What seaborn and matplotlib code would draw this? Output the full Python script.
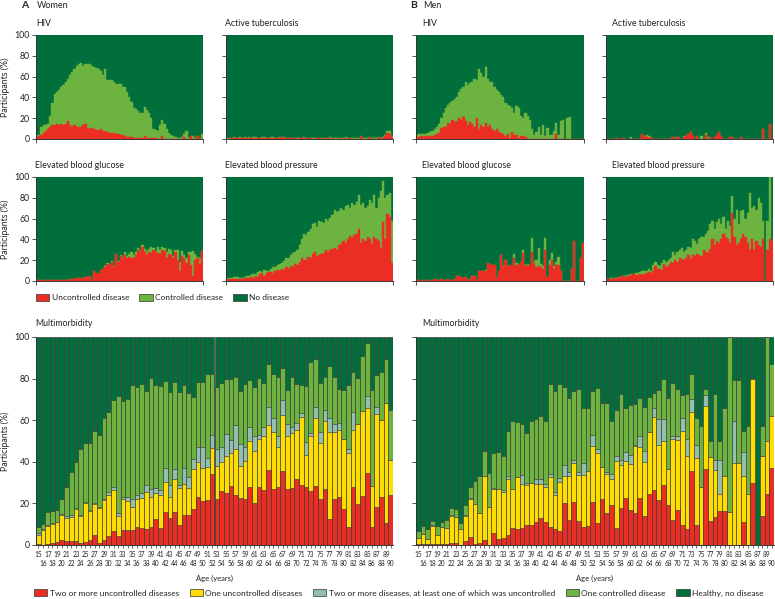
import matplotlib
matplotlib.use("Agg")
import matplotlib.pyplot as plt
import seaborn as sns
from matplotlib.patches import Patch

plt.rcParams['font.family'] = ['Lato', 'DejaVu Sans']

ages = list(range(15, 91))

# ---------------- Women: single conditions (cumulative % : uncontrolled, uncontrolled+controlled)
w_hiv_unc = [2,3,4,6,8,10,12,13,13,14, 13,14,13,14,17,13,12,13,12,12, 12,13,14,10,11,11,10,9,9,10,
             8,8,7,6,6,6,5,5,4,4, 3,2,2,1.5,1,1,1,1,1,3, 1,1,0.5,0.5,0.5,0,0,3,0,0,
             0,0,0,0,0,0,0,2,0,0, 3,0,0,3,0,0]
w_hiv_tot = [4,4,12,13,13,14,22,35,43,45, 47,50,52,55,58,62,64,67,70,72, 73,70,72,72,72,70,69,68,67,65,
             62,67,57,57,57,55,53,53,53,50, 50,45,40,36,30,29,27,25,25,31, 28,25,20,10,9,8,13,18,14,10,
             6,4,3,2,1,1,2,5,8,1, 3,3,1,3,0,5]
w_tb_unc = [0,0,0.5,1,0.5,0.5,1,0.5,1,0.5, 1,0.5,1,1,0.5,0.5,1,1,0.5,0.5, 1,1,0.5,0.5,1,1.5,1,0.5,0.5,0.5,
            0.5,0.5,0,0.5,0.5,0.5,0,0.5,0.5,0, 0,0.5,0.5,0,0.5,0,0.5,1,0,0, 0,0.5,0,0,1,0,0.5,0,0,0,
            0,3,0,0,0,1.5,0,0,0,1.5, 0,1,3,6,5,2]
w_tb_tot = [0.5,0.5,1,1.5,1,1,1.5,1,1.5,1, 1.5,1,1.5,1.5,1,1,1.5,2,1,1, 1.5,1.5,1,1,1.5,2,1.5,1,1,1,
            1,1,0.5,1,1,2,0.5,1,1,0.5, 0.5,1,1,0.5,1,0.5,1,1.5,0.5,0.5, 0.5,1,0.5,0.5,1.5,0.5,1,0.5,0.5,0.5,
            0.5,3,0.5,0.5,0.5,2,0.5,0.5,0.5,2, 0.5,1.5,4,8,8,3]
w_glu_unc = [1,1,0.5,0.5,1,0,0.5,0.5,0.5,0.5, 1,1,0.5,1,1,1.5,2,2,2.5,3, 3,2,3.5,4,5,0.5,10,8,7,11,
             12,13,16,15,18,13,26,18,24,22, 25,22,23,22,22,25,30,28,33,28, 25,28,27,30,28,27,26,30,29,22,
             26,25,22,28,20,10,24,22,17,25, 15,5,20,22,16,29]
w_glu_tot = [1,1,0.5,0.5,1,0,0.5,0.5,0.5,0.5, 1,1,0.5,1,1,1.5,2,2,2.5,3, 3,2,3.5,4,5,0.5,10,8,7,11,
             12,14,17,15,19,14,26,19,25,23, 28,24,26,28,25,28,32,29,35,31, 29,31,33,32,29,33,30,33,32,28,
             31,30,24,30,30,18,29,25,22,28, 28,29,26,23,22,29]
w_bp_unc = [2,2,2,2,1.5,2,2,2,3,3, 3,4,3,5,4,7,8,5,8,9, 9,8,10,11,10,12,11,13,12,14,
            13,16,15,18,22,20,20,23,22,26, 28,24,25,26,27,30,28,30,31,32, 30,35,36,38,37,40,43,41,44,45,
            50,37,40,38,42,40,36,42,40,38, 32,57,40,64,62,17]
w_bp_tot = [3,3,3,4,4,4,3,3,4,5, 5,6,7,7,9,10,9,11,10,10, 12,13,13,15,16,17,19,22,22,25,
            27,28,30,35,40,45,44,47,50,55, 56,52,58,57,56,60,58,61,63,68, 66,67,70,68,72,73,70,75,73,76,
            83,73,75,70,72,78,75,83,70,80, 87,96,80,83,85,58]

# ---------------- Men: single conditions
m_hiv_unc = [2,2,3,2,3,3,3,3,4,5, 6,11,12,12,15,14,18,16,17,20, 18,21,17,13,16,14,12,20,10,13,
             12,15,12,13,10,8,10,7,6,5, 3,5,1,7,4,4,1,3,3,2, 0,0,0,0,0,0,0,0,0,0,
             0,0,0,5,0,0,0,0,0,0, 0,0,0,0,0,0]
m_hiv_tot = [4,5,5,5,5,6,7,8,10,12, 14,20,25,30,33,35,37,38,40,45, 48,50,55,52,54,55,58,57,67,63,
             60,69,58,55,55,50,47,45,42,40, 35,33,32,30,25,32,30,22,20,25, 22,18,10,4,7,12,4,13,3,11,
             4,4,8,15,4,17,18,0,20,21, 0,0,0,0,0,0]
m_tb_unc = [0,0,0,0,1,0,0,1,0,0, 0,0,0,0,0,0,5,3,2,1, 2,0,0,0,0,0,0,0,0,1,
            2,0,2,0,0,2,3,5,7,3, 0,3,0,0,0,4,0,2,0,2, 4,7,3,0,0,0,2,2,0,0,
            0,2,0,0,0,0,0,0,0,0, 0,10,0,0,14,0]
m_tb_tot = [0,0,0,0,1,0,0,1,0,0, 0,2,0,0,0,0,5,3,4,3, 2,0,0,0,0,0,0,0,0,1,
            2,1,2,0,0,3,3,5,7,3, 0,3,0,3,0,6,2,2,0,2, 4,7,3,0,0,0,2,2,0,0,
            0,2,0,0,0,0,0,0,0,0, 0,10,0,0,14,0]
m_glu_unc = [0.5,0.5,0,0.5,0.5,0.5,0,1,2,1, 1,1.5,1,0.5,2,0.5,1,1.5,5,5, 4,3,4,0.5,2,5,5,0.5,10,10,
             10,10,17,16,15,15,3,10,25,13, 20,14,15,14,22,15,15,18,27,14, 15,15,28,17,13,14,13,12,30,4,
             15,20,12,15,15,10,0,0,0,0, 12,38,0,0,22,37]
m_glu_tot = [0.5,0.5,0,0.5,0.5,0.5,0,1,2,1, 1,1.5,1,0.5,2,0.5,1,1.5,5,5, 4,3,4,0.5,2,5,5,0.5,10,10,
             10,11,17,16,15,15,3,10,25,14, 20,14,15,14,26,17,15,18,30,15, 16,15,41,18,20,32,16,14,41,4,
             20,27,14,18,23,10,0,0,0,0, 12,38,0,0,22,37]
m_bp_unc = [2,2,2,3,2,4,3,5,4,5, 5,6,7,6,6,7,6,7,8,9, 8,10,14,12,12,11,16,13,15,18,
            17,20,18,22,21,20,22,25,21,25, 24,26,25,24,30,28,27,31,40,35, 38,37,40,45,42,40,37,65,42,35,
            37,40,45,42,37,30,40,30,38,35, 33,40,0,30,40,38]
m_bp_tot = [2,2,3,3,3,4,4,5,5,6, 6,7,7,8,8,9,10,10,10,12, 10,15,18,15,14,17,20,18,20,22,
            28,25,28,30,32,28,30,33,32,40, 38,36,40,42,42,45,48,55,58,50, 57,60,55,62,50,58,53,82,60,68,
            55,67,68,60,65,85,70,72,68,80, 75,58,0,58,100,38]

# ---------------- Multimorbidity (cumulative upper edges of each layer, %)
w_mm_red = [0.5,0,0.3,1,1.5,2.3,1.8,1.8,1.8,1, 1.5,2.5,5,1,2.5,4.5,6.5,4.5,7,7, 7,8.5,8,7.5,8.5,12.5,8,16,13,16,
            9.5,14.5,14.5,17.5,23,21,21.5,34,22,26, 25,28.5,24,22.5,22,28,20,28,26.5,36,
            27,28,35.5,27,27.5,31.5,29,28,26,28.5, 22,27,12.5,22,23,17.5,8.5,28,19.5,23.5, 34.5,8.5,18.5,23,10.5,24]
w_mm_yellow = [5,7,9,10,11,14.5,13,13.5,17.5,14, 20,16.5,19.5,18,21.5,24,26.5,14,22,21,
               18.5,22,22.5,25.5,23,25,24,30.5,23,31.5, 27.5,29.5,27.5,36.5,40,37,37.5,46.5,38,40,
               43,44,46,38,40.5,50,45,51,52.5,57.5, 54.5,47,62.5,52.5,54,55.5,61.5,43.5,52.5,61,
               49,59.5,54.5,54.5,55.5,51,44,55.5,58,64.5, 66,28.5,63,60,68.5,41]
w_mm_grey = [6,7.5,9.5,10.5,11,15,14,14.5,18,14.5, 20.5,17,20,18.5,22,25.5,28,15.5,23,23,
             22,24,25,29,27,27.5,26.5,37,29,36.5, 29,37,32.5,41.5,47,47,42,53,46,47,
             53.5,50.5,57.5,48.5,47,56.5,52.5,53,56.5,66.5, 61,52.5,69.5,58,56.5,58.5,63.5,49.5,54,66.5,
             54.5,65,61,58,58.5,51,46,64,58,64.5, 71.5,28.5,66.5,60,68.5,41]
w_mm_total = [8.5,10,16,16.5,17,22,28,35,40,46, 49,49,55,53,61,64,69.5,71.5,69,70,
              77,76,77.5,74,80.5,77,76.5,79,73.5,78.5, 73.5,77,73,71,78.5,78.5,82,82,76,78,
              80,80,81,74,77.5,79.5,76,80.5,78,87, 82,81,85,74.5,81,77.5,77,76.5,88,89.5,
              78,81,86,81,75,74.5,77,83,80.5,91, 97,74.5,81.5,83,89.5,65]

m_mm_red = [0.3,0.3,0.3,0.3,0.3,0.3,0.3,0.8,0.8,0, 2,4,0.5,1,2.5,0,6,3,3.5,5,
            8,7.5,8,9.5,9.5,11,13,11,8.5,7.5, 6.5,20,12,20.5,11.5,8.5,9,20.5,10.5,22,
            15.5,19,8,18,22.5,17,15.5,22.5,14,24.5, 26.5,21.5,29,19,12,17,9.5,7.5,35.5,9.5,
            0,36.5,11.5,13.5,16.5,16.5,0,0,0,11, 0,30,0,14,24.5,37]
m_mm_yellow = [3.5,5.5,3,9,5,8.5,8,14,13.5,7.5, 14,22,19.5,15.5,33,18.5,27,27,25.5,31.5,
               27,32.5,29.5,29,30,29.5,29.5,28,32.5,24, 30.5,33,33,39.5,33.5,33.5,35.5,47.5,44,37.5,
               34,31.5,40.5,38.5,40.5,39,47.5,47,40,54.5, 61.5,48,50,36.5,51,50.5,55,43,64,42,
               28,67,42.5,36,24.5,33,16,39.5,39.5,33, 24.5,80,0,43,50,62]
m_mm_grey = [3.5,5.5,3,9.5,5,8.5,8,14.5,13.5,7.5, 14.5,22.5,19.5,15.5,33,18.5,27.5,27,26.5,33,
             27,32.5,33.5,30,30,31.5,31.5,29.5,34,25.5, 32,38.5,35,41,35,39.5,35.5,53,46,37.5,
             35,34,43,41,44.5,43.5,48,52.5,45,54.5, 66,60.5,60.5,36.5,52.5,52.5,61,51,70,48,
             28,72,42.5,41,41,33,16,59.5,39.5,44.5, 24.5,80,0,43,50,62]
m_mm_total = [6.5,9,7.5,11.5,9,11,12,18,17.5,10.5, 19,28,31,33,45,34.5,44,44.5,43,55,
              59.5,59,58,54,59.5,60.5,62,59.5,77.5,74, 77.5,76,70.5,74,75,66,66,74,75.5,68.5,
              68.5,59.5,65,72.5,66,67.5,68,70.5,66.5,71, 73,74.5,80,70.5,78,75,72,72.5,82,61,
              57,75,50,72.5,50,66,100,79.5,79.5,55, 57,80,0,57,100,87]

full = [100] * len(ages)

RED, YEL, GRY, LGR, DGR = '#EC2D24', '#FFDD00', '#93BFAE', '#6DB33F', '#006F3B'
EDGE = '#3c3c3c'
TXT = '#222222'

W, H = 775, 599
fig = plt.figure(figsize=(W / 100, H / 100), dpi=100)


def axes_px(x0, y0, x1, y1):
    return fig.add_axes([x0 / W, 1 - y1 / H, (x1 - x0) / W, (y1 - y0) / H])


def stack(ax, layers, edge=None, lw=0.3):
    for vals, col in layers:
        sns.barplot(x=ages, y=vals, color=col, width=1.0, saturation=1, errorbar=None,
                    ax=ax, edgecolor=(edge if edge else col), linewidth=lw)


def style(ax, ylabels, multi=False):
    for s in ['top', 'right']:
        ax.spines[s].set_visible(False)
    for s in ['left', 'bottom']:
        ax.spines[s].set_color('#333333')
        ax.spines[s].set_linewidth(0.7)
    ax.set_ylim(0, 100)
    ax.set_xlim(-0.5, len(ages) - 0.5)
    ax.set_yticks(range(0, 101, 20))
    ax.tick_params(axis='y', length=3, width=0.6, color='#333333', labelsize=6.3, pad=1.5,
                   labelcolor=TXT)
    if ylabels:
        ax.set_yticklabels([str(v) for v in range(0, 101, 20)])
        ax.set_ylabel('Participants (%)', fontsize=6.3, color=TXT, labelpad=3)
    else:
        ax.set_yticklabels([])
        ax.set_ylabel('')
    if multi:
        odd = [i for i, a in enumerate(ages) if a % 2 == 1]
        even = [i for i, a in enumerate(ages) if a % 2 == 0]
        ax.set_xticks(odd)
        ax.set_xticklabels([str(ages[i]) for i in odd], fontsize=4.7, color=TXT)
        ax.set_xticks(even, minor=True)
        ax.set_xticklabels([str(ages[i]) for i in even], minor=True, fontsize=4.7, color=TXT)
        ax.tick_params(axis='x', which='major', length=2.5, width=0.5, color='#333333', pad=1.5)
        ax.tick_params(axis='x', which='minor', length=2.5, width=0.5, color='#333333', pad=8.0)
        ax.set_xlabel('Age (years)', fontsize=5.5, color=TXT, labelpad=6)
    else:
        ax.set_xticks([-0.5, len(ages) - 0.5])
        ax.set_xticklabels([])
        ax.tick_params(axis='x', length=3, width=0.6, color='#333333')
        ax.set_xlabel('')


small = [
    # (x0, x1, y0, y1, unc, tot, ylabels, title, title_x)
    (36, 203, 35, 139, w_hiv_unc, w_hiv_tot, True, 'HIV', 36),
    (226, 393, 35, 139, w_tb_unc, w_tb_tot, False, 'Active tuberculosis', 225),
    (36, 203, 177, 281, w_glu_unc, w_glu_tot, True, 'Elevated blood glucose', 35),
    (226, 393, 177, 281, w_bp_unc, w_bp_tot, False, 'Elevated blood pressure', 225),
    (416, 584, 35, 139, m_hiv_unc, m_hiv_tot, False, 'HIV', 422),
    (606, 773, 35, 139, m_tb_unc, m_tb_tot, False, 'Active tuberculosis', 612),
    (416, 584, 177, 281, m_glu_unc, m_glu_tot, False, 'Elevated blood glucose', 422),
    (606, 773, 177, 281, m_bp_unc, m_bp_tot, False, 'Elevated blood pressure', 612),
]
for x0, x1, y0, y1, unc, tot, ylab, title, tx in small:
    ax = axes_px(x0, y0, x1, y1)
    stack(ax, [(full, DGR), (tot, LGR), (unc, RED)])
    style(ax, ylab)
    fig.text(tx / W, 1 - (y0 - 11) / H, title, fontsize=6.3, color=TXT, va='center', ha='left')

multi = [
    (36, 393, w_mm_red, w_mm_yellow, w_mm_grey, w_mm_total, True, 35),
    (416, 774, m_mm_red, m_mm_yellow, m_mm_grey, m_mm_total, False, 422),
]
for x0, x1, r, yv, g, t, ylab, tx in multi:
    ax = axes_px(x0, 337, x1, 545)
    stack(ax, [(full, DGR), (t, LGR), (g, GRY), (yv, YEL), (r, RED)], edge=EDGE, lw=0.45)
    style(ax, ylab, multi=True)
    fig.text(tx / W, 1 - 323.5 / H, 'Multimorbidity', fontsize=6.3, color=TXT, va='center', ha='left')

# panel letters
fig.text(21 / W, 1 - 6 / H, 'A', fontsize=7.5, fontweight='bold', color=TXT, va='center')
fig.text(37 / W, 1 - 6 / H, 'Women', fontsize=6.5, color=TXT, va='center')
fig.text(410 / W, 1 - 6 / H, 'B', fontsize=7.5, fontweight='bold', color=TXT, va='center')
fig.text(423 / W, 1 - 6 / H, 'Men', fontsize=6.5, color=TXT, va='center')


def patch(c):
    return Patch(facecolor=c, edgecolor='#333333', linewidth=0.5)


fig.legend([patch(RED), patch(LGR), patch(DGR)],
           ['Uncontrolled disease', 'Controlled disease', 'No disease'],
           loc='center left', bbox_to_anchor=(36 / W, 1 - 297.5 / H), ncol=3, frameon=False,
           fontsize=6.0, handlelength=1.6, handleheight=0.9, handletextpad=0.3,
           columnspacing=1.2, borderpad=0, borderaxespad=0, labelcolor=TXT)

fig.legend([patch(RED), patch(YEL), patch(GRY), patch(LGR), patch(DGR)],
           ['Two or more uncontrolled diseases', 'One uncontrolled diseases',
            'Two or more diseases, at least one of which was uncontrolled',
            'One controlled disease', 'Healthy, no disease'],
           loc='center left', bbox_to_anchor=(34 / W, 1 - 593 / H), ncol=5, frameon=False,
           fontsize=6.0, handlelength=1.6, handleheight=0.9, handletextpad=0.3,
           columnspacing=1.25, borderpad=0, borderaxespad=0, labelcolor=TXT)

fig.savefig('out.png', dpi=100)
